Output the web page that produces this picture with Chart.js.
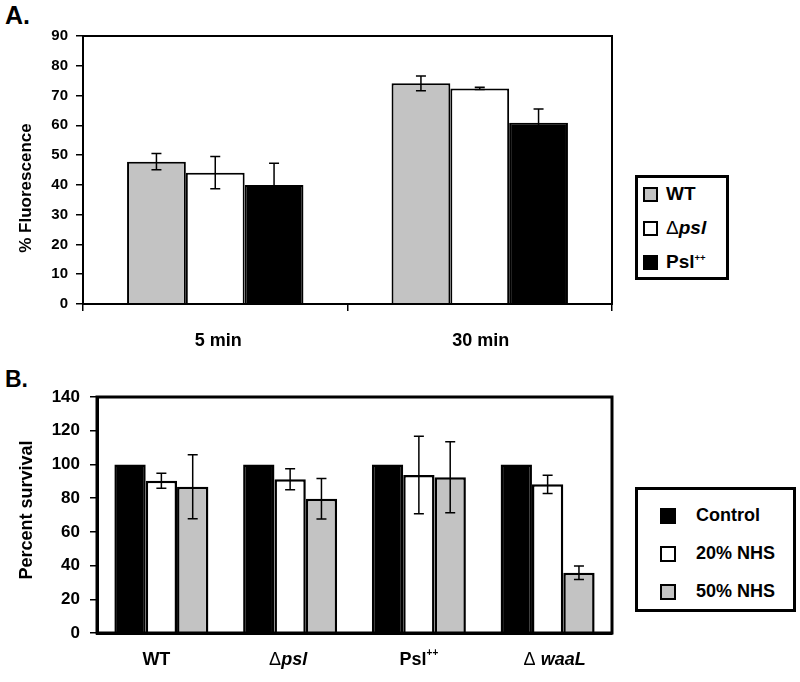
<!DOCTYPE html>
<html>
<head>
<meta charset="utf-8">
<script src="https://cdn.jsdelivr.net/npm/chart.js@4"></script>
<style>
  body { margin: 0; background: #fff; font-family: "Liberation Sans", Arial, sans-serif; }
  .wrap { position: absolute; left: 0; width: 800px; }
  #wrapA { top: 0; height: 360px; }
  #wrapB { top: 360px; height: 322px; }
  .panel { position: absolute; font-weight: bold; color: #000; }
  .legend { position: absolute; border: 3px solid #000; box-sizing: border-box; background: #fff; }
  .item { position: absolute; display: flex; align-items: center; white-space: nowrap; color: #000; }
  .sw { box-sizing: border-box; border: 2px solid #000; display: inline-block; }
  sup { font-size: 0.5em; vertical-align: 0.7em; }
</style>
</head>
<body>
<div class="panel" style="left:5px;top:1px;font-size:25px;">A.</div>
<div class="panel" style="left:5px;top:366px;font-size:23px;">B.</div>
<div class="wrap" id="wrapA"><canvas id="chartA"></canvas></div>
<div class="wrap" id="wrapB"><canvas id="chartB"></canvas></div>
<div class="legend" id="legendA" style="left:635px;top:175px;width:94px;height:105px;"></div>
<div class="legend" id="legendB" style="left:635px;top:487px;width:161px;height:125px;"></div>
<script>
// ---- panel A data ----
const timesA = ['5 min', '30 min'];
const strainsA = ['WT', 'Δpsl', 'Psl++'];
const wtA = [47.8, 74.1];
const wtErrA = [2.7, 2.5];
const dpslA = [44.1, 72.4];
const dpslErrA = [5.4, 0.4];
const pslA = [40.0, 60.9];
const pslErrA = [7.3, 4.6];
const yRangeA = [0, 90, 10];

// ---- panel B data ----
const strainsB = ['WT', 'Δpsl', 'Psl++', 'Δ waaL'];
const treatmentsB = ['Control', '20% NHS', '50% NHS'];
const controlB = [100, 100, 100, 100];
const nhs20B = [90.3, 91.2, 93.7, 88.2];
const nhs20ErrB = [4.5, 6.2, 23.0, 5.4];
const nhs50B = [86.8, 79.7, 92.4, 35.8];
const nhs50ErrB = [19.0, 12.0, 21.0, 4.0];
const yRangeB = [0, 140, 20];

const GREY = '#c3c3c3';
const FONT = '"Liberation Sans", Arial, sans-serif';

// labels with italic / superscript parts
const richParts = {
    'Δpsl': [{ t: 'Δ', f: 'normal' }, { t: 'psl', f: 'italic bold' }],
    'Psl++': [{ t: 'Psl', f: 'bold' }, { t: '++', f: 'bold', sup: true }],
    'Δ waaL': [{ t: 'Δ ', f: 'normal' }, { t: 'waaL', f: 'italic bold' }]
};
function parts(label) { return richParts[label] || [{ t: label, f: 'bold' }]; }

function richHTML(label) {
    return parts(label).map(p => {
        let s = p.sup ? '<sup>' + p.t + '</sup>' : p.t;
        if (p.f.includes('italic')) s = '<i>' + s + '</i>';
        if (p.f.includes('bold')) s = '<b>' + s + '</b>';
        return s;
    }).join('');
}

function drawRich(ctx, label, size, cx, cy) {
    const ps = parts(label);
    const fontOf = p => p.f + ' ' + Math.round(p.sup ? size * 0.55 : size) + 'px ' + FONT;
    let total = 0;
    ps.forEach(p => { ctx.font = fontOf(p); total += ctx.measureText(p.t).width; });
    let x = cx - total / 2;
    ctx.textAlign = 'left';
    ctx.textBaseline = 'middle';
    ctx.fillStyle = '#000';
    ps.forEach(p => {
        ctx.font = fontOf(p);
        ctx.fillText(p.t, x, p.sup ? cy - size * 0.35 : cy);
        x += ctx.measureText(p.t).width;
    });
}

// frame, error bars, category labels, y title
const decor = {
    id: 'decor',
    afterDatasetsDraw(chart, args, o) {
        const ctx = chart.ctx, area = chart.chartArea;
        const ys = chart.scales.y, xs = chart.scales.x;
        ctx.save();
        ctx.strokeStyle = '#000';
        ctx.lineWidth = o.errWidth;
        chart.data.datasets.forEach((ds, i) => {
            if (!ds.errors) return;
            chart.getDatasetMeta(i).data.forEach((bar, j) => {
                const v = ds.data[j], e = ds.errors[j];
                const top = ys.getPixelForValue(v + e), bot = ys.getPixelForValue(v - e);
                ctx.beginPath();
                ctx.moveTo(bar.x, top); ctx.lineTo(bar.x, bot);
                ctx.moveTo(bar.x - o.cap, top); ctx.lineTo(bar.x + o.cap, top);
                ctx.moveTo(bar.x - o.cap, bot); ctx.lineTo(bar.x + o.cap, bot);
                ctx.stroke();
            });
        });
        ctx.lineWidth = o.frame;
        ctx.strokeRect(area.left, area.top, area.right - area.left, area.bottom - area.top);
        chart.data.labels.forEach((lab, i) => {
            drawRich(ctx, lab, o.labelSize, xs.getPixelForValue(i) + (o.labelDx[i] || 0), area.bottom + o.labelDy);
        });
        ctx.translate(o.titleX, (area.top + area.bottom) / 2 + o.titleDy);
        ctx.rotate(-Math.PI / 2);
        ctx.font = 'bold ' + o.titleSize + 'px ' + FONT;
        ctx.textAlign = 'center';
        ctx.textBaseline = 'middle';
        ctx.fillText(o.title, 0, 0);
        ctx.restore();
    }
};

function makeChart(id, labels, datasets, range, cfg) {
    return new Chart(document.getElementById(id), {
        type: 'bar',
        data: { labels: labels, datasets: datasets },
        plugins: [decor],
        options: {
            responsive: true,
            maintainAspectRatio: false,
            animation: false,
            layout: { padding: { top: cfg.top, right: 188, left: 0, bottom: 0 } },
            datasets: { bar: { categoryPercentage: cfg.catPct, barPercentage: 1, borderColor: '#000', borderWidth: cfg.barBorder } },
            plugins: { legend: { display: false }, tooltip: { enabled: false }, decor: cfg.decor },
            scales: {
                x: {
                    ticks: { display: false },
                    grid: { offset: true, drawOnChartArea: false, drawTicks: cfg.xTicks, tickLength: 7, color: '#000', lineWidth: 1.5 },
                    border: { color: '#000', width: cfg.decor.frame },
                    afterFit: s => { s.height = cfg.xHeight; }
                },
                y: {
                    min: range[0], max: range[1],
                    ticks: { stepSize: range[2], color: '#000', padding: cfg.tickPad, font: { family: FONT, size: cfg.tickSize, weight: 'bold' } },
                    grid: { drawOnChartArea: false, tickLength: 7, color: '#000', lineWidth: 1.5 },
                    border: { color: '#000', width: cfg.decor.frame },
                    afterFit: s => { s.width = cfg.yWidth; }
                }
            }
        }
    });
}

makeChart('chartA', timesA, [
    { label: strainsA[0], data: wtA, errors: wtErrA, backgroundColor: GREY },
    { label: strainsA[1], data: dpslA, errors: dpslErrA, backgroundColor: '#fff' },
    { label: strainsA[2], data: pslA, errors: pslErrA, backgroundColor: '#000' }
], yRangeA, {
    top: 36, yWidth: 83, xHeight: 56, catPct: 0.667, barBorder: 2, tickPad: 8, tickSize: 15, xTicks: true,
    decor: { frame: 2, errWidth: 1.5, cap: 5, labelSize: 18, labelDy: 37, labelDx: [3, 1], title: '% Fluorescence', titleSize: 17, titleX: 26, titleDy: 18 }
});

makeChart('chartB', strainsB, [
    { label: treatmentsB[0], data: controlB, backgroundColor: '#000' },
    { label: treatmentsB[1], data: nhs20B, errors: nhs20ErrB, backgroundColor: '#fff' },
    { label: treatmentsB[2], data: nhs50B, errors: nhs50ErrB, backgroundColor: GREY }
], yRangeB, {
    top: 37, yWidth: 97, xHeight: 49, catPct: 0.73, barBorder: 2.5, tickPad: 10, tickSize: 17, xTicks: false,
    decor: { frame: 3, errWidth: 1.5, cap: 5, labelSize: 18, labelDy: 27, labelDx: [-5, -2, 0, 7], title: 'Percent survival', titleSize: 18, titleX: 27, titleDy: -5 }
});

// HTML legends
function buildLegend(el, names, fills, pos) {
    names.forEach((n, i) => {
        const d = document.createElement('div');
        d.className = 'item';
        d.style.left = pos.x + 'px';
        d.style.top = (pos.y0 + i * pos.dy) + 'px';
        d.style.fontSize = pos.size + 'px';
        d.innerHTML = '<span class="sw" style="width:' + pos.sw + 'px;height:' + pos.sw + 'px;background:' + fills[i] +
            ';margin-right:' + pos.gap + 'px"></span>' + richHTML(n);
        el.appendChild(d);
    });
}
buildLegend(document.getElementById('legendA'), strainsA, [GREY, '#fff', '#000'],
    { x: 5, y0: 5, dy: 34, size: 19, sw: 15, gap: 8 });
buildLegend(document.getElementById('legendB'), treatmentsB, ['#000', '#fff', GREY],
    { x: 22, y0: 15, dy: 38, size: 18, sw: 16, gap: 20 });
</script>
</body>
</html>
